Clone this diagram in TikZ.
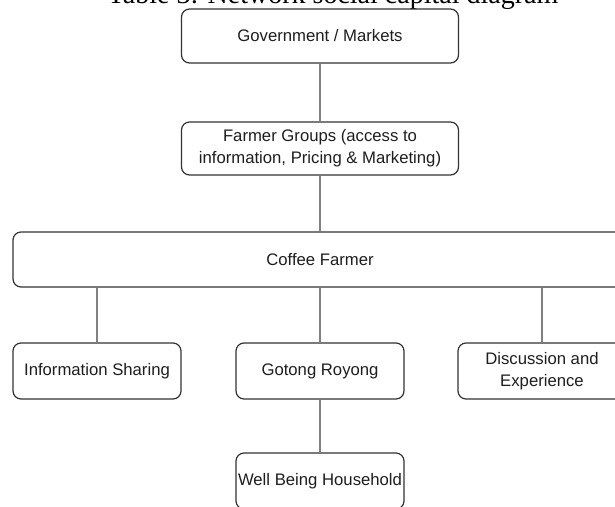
\documentclass[tikz,border=0pt]{standalone}
\usepackage{fontspec}
\setmainfont{Liberation Sans}
\newfontfamily\titlefont{Liberation Serif}
\definecolor{boxline}{HTML}{333333}
\definecolor{linkgray}{HTML}{808080}
\definecolor{inktext}{HTML}{1E1E1E}
\begin{document}
\begin{tikzpicture}[x=1pt,y=-1pt,
  box/.style={draw=boxline, line width=1.2pt, rounded corners=8pt, fill=white,
    align=center, inner sep=0pt, text=inktext,
    font=\fontsize{16.7}{22}\selectfont},
  wide/.style={minimum width=277pt, minimum height=54pt},
  small/.style={minimum width=168pt, minimum height=56pt},
  link/.style={draw=linkgray, line width=1.6pt}]
\useasboundingbox (0,0) rectangle (615,506);
\clip (0,0) rectangle (615,506);

% caption, cut by the top edge
\node[font=\titlefont\fontsize{28}{30}\selectfont, anchor=base, inner sep=0pt]
  (title) at (333,4) {Table 3: Network social capital diagram};

% boxes
\node[box, wide] (gov) at (320,36) {Government / Markets};
\node[box, wide, minimum height=53pt] (fg) at (320,148.5)
  {Farmer Groups (access to\\information, Pricing \& Marketing)};
\node[box, minimum width=614pt, minimum height=55pt] (cf) at (320,259.5) {Coffee Farmer};
\node[box, small] (info) at (97,371) {Information Sharing};
\node[box, small] (gr) at (320,371) {Gotong Royong};
\node[box, small] (dis) at (542,371) {Discussion and\\Experience};
\node[box, small] (well) at (320,481) {Well Being Household};

% connectors
\draw[link] (gov.south) -- (fg.north);
\draw[link] (fg.south) -- (cf.north);
\draw[link] (cf.south -| info.north) -- (info.north);
\draw[link] (cf.south) -- (gr.north);
\draw[link] (cf.south -| dis.north) -- (dis.north);
\draw[link] (gr.south) -- (well.north);
\end{tikzpicture}
\end{document}
